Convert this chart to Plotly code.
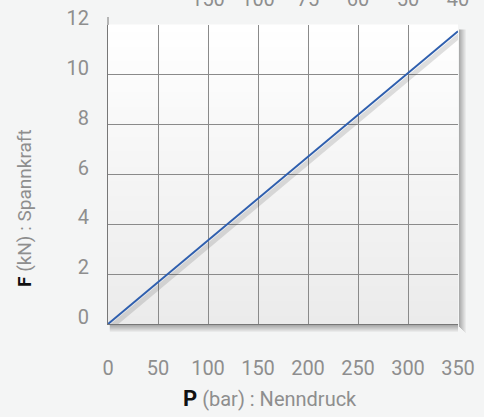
import plotly.graph_objects as go

# Nenndruck (bar) vs Spannkraft (kN)
pressure = [0, 350]
force = [0, 11.75]

x_ticks = [0, 50, 100, 150, 200, 250, 300, 350]
y_ticks = [0, 2, 4, 6, 8, 10, 12]
top_vals = [100, 150, 200, 250, 300, 350]
top_text = ["150", "100", "75", "60", "50", "40"]

W, H = 484, 417
L, R, T, B = 108, 26, 25, 93
plot_w, plot_h = W - L - R, H - T - B

font = "Roboto"
grey = "#8e8e8e"
grid = "#8a8a8a"

fig = go.Figure()

# soft shadow under the line (same data on shifted overlay axes)
dx = 350 / plot_w
dy = 12 / plot_h
fig.add_trace(go.Scatter(
    x=pressure, y=force, mode="lines", xaxis="x3", yaxis="y3",
    line=dict(color="rgba(0,0,0,0.12)", width=5),
    hoverinfo="skip", showlegend=False))

fig.add_trace(go.Scatter(
    x=pressure, y=force, mode="lines",
    line=dict(color="#2f5fae", width=2),
    showlegend=False))

shapes = []
# vertical gradient of the plot background
n = 40
for i in range(n):
    t = i / (n - 1)
    c = int(round(255 - t * 20))
    shapes.append(dict(type="rect", xref="x domain", yref="y domain",
                       x0=0, x1=1, y0=1 - (i + 1) / n, y1=1 - i / n + 0.002,
                       fillcolor=f"rgb({c},{c},{c})", line_width=0, layer="below"))
# drop shadow on the right and bottom edges
for k in range(7):
    a = 0.30 * (1 - k / 7)
    shapes.append(dict(type="rect", xref="x domain", yref="y domain",
                       xsizemode="pixel", xanchor=1, x0=k + 1, x1=k + 2,
                       y0=-0.01 - k / plot_h, y1=0.985,
                       fillcolor=f"rgba(0,0,0,{a:.3f})", line_width=0, layer="below"))
    shapes.append(dict(type="rect", xref="x domain", yref="y domain",
                       ysizemode="pixel", yanchor=0, y0=-k - 1, y1=-k - 2,
                       x0=0.005, x1=1,
                       fillcolor=f"rgba(0,0,0,{a:.3f})", line_width=0, layer="below"))
# left axis sticking out above the frame
shapes.append(dict(type="line", xref="x domain", yref="y domain",
                   x0=0, x1=0, ysizemode="pixel", yanchor=1, y0=0, y1=8,
                   line=dict(color="#777", width=1)))

annotations = [
    dict(text="<b style='color:#111;font-size:22px'>P</b> (bar) : Nenndruck",
         xref="paper", yref="paper", x=(270 - L) / plot_w, y=0,
         xanchor="center", yanchor="middle", yshift=-74, showarrow=False,
         font=dict(size=20, color=grey)),
    dict(text="<b style='color:#111'>F</b> (kN) : Spannkraft", textangle=-90,
         xref="paper", yref="paper", x=0, y=(324 - 208) / plot_h,
         xanchor="center", yanchor="middle", xshift=-84, showarrow=False,
         font=dict(size=19, color=grey)),
]

fig.update_layout(
    width=W, height=H,
    margin=dict(l=L, r=R, t=T, b=B),
    paper_bgcolor="#f4f5f5",
    plot_bgcolor="rgba(0,0,0,0)",
    font=dict(family=font, color=grey, size=20),
    shapes=shapes,
    annotations=annotations,
    xaxis=dict(range=[0, 350], tickvals=x_ticks, showgrid=True, gridcolor=grid,
               gridwidth=1, zeroline=False, showline=True, linecolor="#777",
               ticks="", ticklabelstandoff=26, automargin=False,
               tickfont=dict(size=20, color=grey), fixedrange=True),
    yaxis=dict(range=[0, 12], tickvals=y_ticks, showgrid=True, gridcolor=grid,
               gridwidth=1, zeroline=False, showline=True, linecolor="#777",
               ticks="", ticklabelstandoff=14, ticklabelshift=-7, automargin=False,
               tickfont=dict(size=20, color=grey), fixedrange=True),
    xaxis2=dict(range=[0, 350], overlaying="x", side="top", tickvals=top_vals,
                ticktext=top_text, showgrid=False, zeroline=False, ticks="",
                ticklabelstandoff=14, automargin=False,
                tickfont=dict(size=20, color=grey)),
    xaxis3=dict(range=[-3 * dx, 350 - 3 * dx], overlaying="x", visible=False),
    yaxis3=dict(range=[3 * dy, 12 + 3 * dy], overlaying="y", visible=False),
)

# dummy trace to show the top axis
fig.add_trace(go.Scatter(x=[None], y=[None], xaxis="x2", showlegend=False))

# the page's default body margin would shift the whole chart by 8px
fig.write_html("out.html", config={"displayModeBar": False},
               post_script="document.body.style.margin='0';")
